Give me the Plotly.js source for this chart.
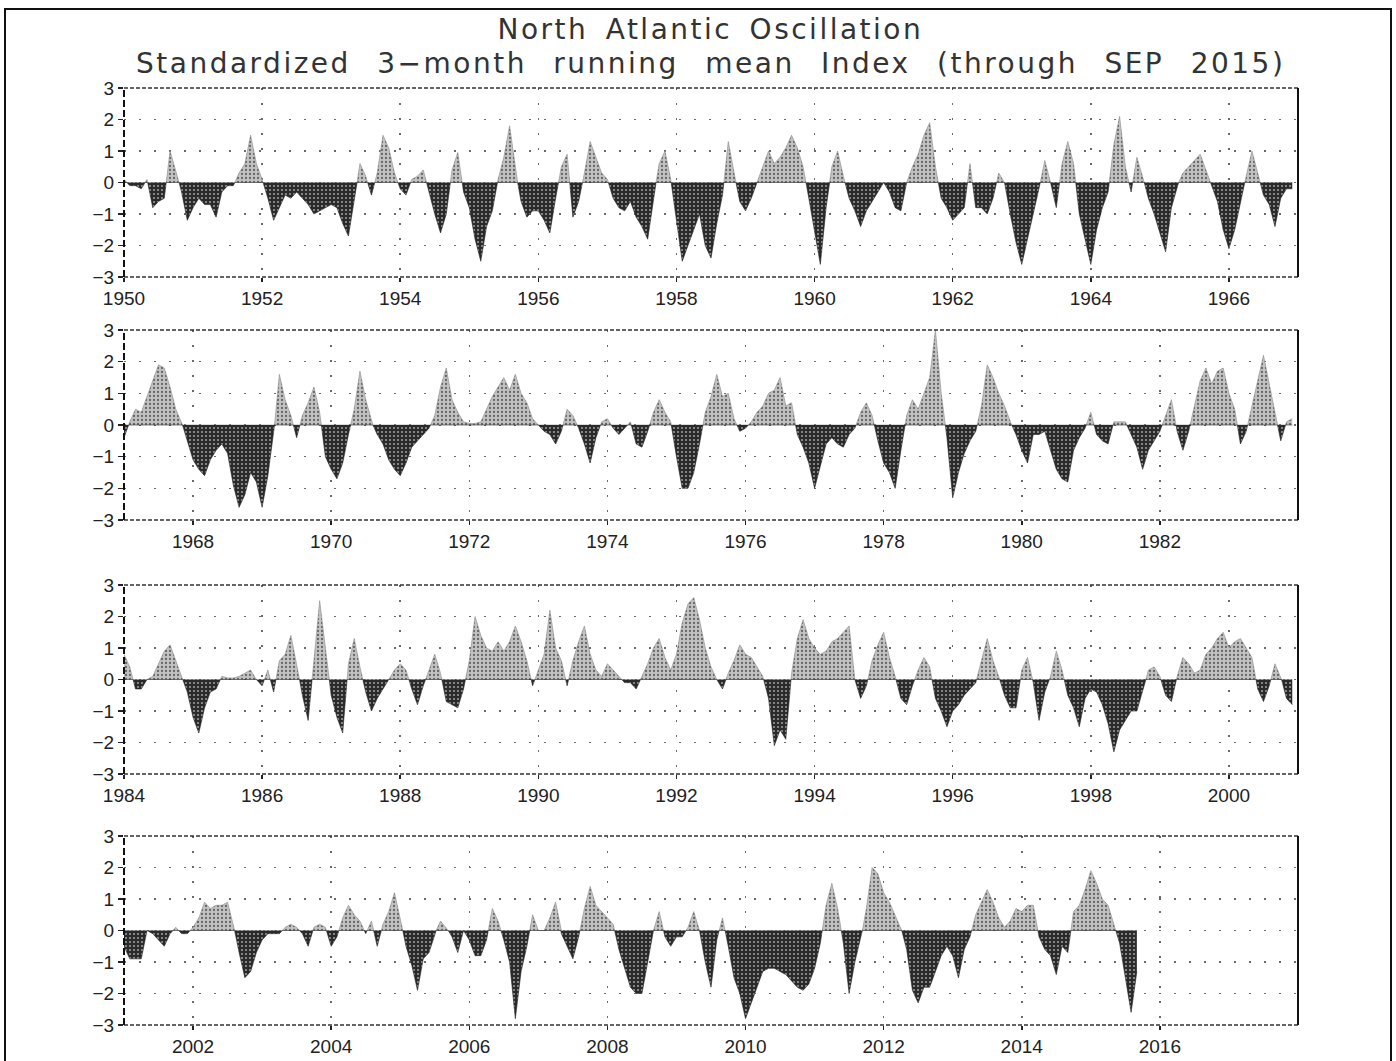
<!DOCTYPE html>
<html>
<head>
<meta charset="utf-8">
<script src="https://cdn.plot.ly/plotly-3.0.1.min.js"></script>
<style>
html,body{margin:0;padding:0;background:#fff;}
#chart{width:1396px;height:1061px;}
</style>
</head>
<body>
<div id="chart"></div>
<script>
// Panel start years (each panel spans 17 years of monthly values)
const panelStartYears = [1950, 1967, 1984, 2001];

// Standardized 3-month running mean NAO index, monthly
const nao1950to1966 = [
 0.1,-0.1,-0.1,-0.2, 0.1,-0.8,-0.6,-0.5, 1.0, 0.4,-0.3,-1.2,
-0.8,-0.5,-0.7,-0.7,-1.1,-0.3,-0.1,-0.1, 0.3, 0.6, 1.5, 0.6,
 0.1,-0.5,-1.2,-0.8,-0.4,-0.5,-0.3,-0.5,-0.7,-1.0,-0.9,-0.8,
-0.7,-0.8,-1.3,-1.7,-0.6, 0.6, 0.2,-0.4, 0.3, 1.5, 1.1, 0.3,
-0.2,-0.4, 0.1, 0.2, 0.4,-0.3,-1.0,-1.6,-1.0, 0.4, 0.95,-0.3,
-0.8,-1.8,-2.5,-1.4,-0.9, 0.1, 0.8, 1.8, 0.4,-0.6,-1.1,-0.9,
-0.9,-1.2,-1.6,-0.5, 0.5, 0.9,-1.1,-0.6, 0.3, 1.3, 0.8, 0.3,
 0.1,-0.5,-0.8,-0.9,-0.6,-1.1,-1.4,-1.8,-0.5, 0.6, 1.0, 0.1,
-1.2,-2.5,-2.0,-1.5,-1.0,-2.0,-2.4,-1.3,-0.4, 1.3, 0.3,-0.6,
-0.9,-0.5, 0.0, 0.5, 1.0, 0.6, 0.8, 1.1, 1.5, 1.1, 0.5,-0.5,
-1.5,-2.6,-0.8, 0.5, 1.0, 0.2,-0.5,-0.9,-1.4,-0.9,-0.6,-0.3,
 0.0,-0.3,-0.8,-0.9, 0.0, 0.5, 0.9, 1.5, 1.9, 0.5,-0.5,-0.8,
-1.2,-1.0,-0.8, 0.6,-0.8,-0.8,-1.0,-0.5, 0.3, 0.0,-1.0,-1.9,
-2.6,-1.8,-0.9,-0.2, 0.7, 0.0,-0.8, 0.6, 1.3, 0.6,-1.0,-1.8,
-2.6,-1.5,-0.8,-0.3, 1.2, 2.1, 0.5,-0.3, 0.8, 0.2,-0.5,-1.0,
-1.6,-2.2,-0.8,-0.1, 0.3, 0.5, 0.7, 0.9, 0.4,-0.1,-0.6,-1.5,
-2.1,-1.5,-0.6, 0.2, 1.0, 0.3,-0.4,-0.7,-1.4,-0.5,-0.2,-0.2
];
const nao1967to1983 = [
-0.4, 0.1, 0.5, 0.4, 0.9, 1.4, 1.9, 1.8, 1.2, 0.5, 0.1,-0.5,
-1.1,-1.4,-1.6,-1.1,-0.8,-0.6,-0.9,-1.9,-2.6,-2.2,-1.5,-1.8,
-2.6,-1.6,-0.3, 1.6, 0.8, 0.3,-0.4, 0.3, 0.7, 1.2, 0.4,-1.0,
-1.4,-1.7,-1.2,-0.3, 0.5, 1.7, 0.8, 0.1,-0.3,-0.6,-1.1,-1.4,
-1.6,-1.2,-0.7,-0.5,-0.3,-0.1, 0.3, 1.2, 1.8, 0.8, 0.4, 0.1,
 0.05,0.05,0.1, 0.5, 0.9, 1.2, 1.5, 1.1, 1.6, 1.0, 0.7, 0.2,
 0.0,-0.2,-0.3,-0.6,-0.2, 0.5, 0.3,-0.1,-0.6,-1.2,-0.4, 0.1,
 0.2,-0.1,-0.3,-0.1, 0.1,-0.6,-0.7,-0.2, 0.4, 0.8, 0.4, 0.1,
-1.0,-2.0,-2.0,-1.5,-0.6, 0.4, 0.9, 1.6, 0.9, 1.0, 0.2,-0.2,
-0.1, 0.1, 0.4, 0.6, 1.0, 1.1, 1.5, 0.6, 0.7,-0.3,-0.7,-1.2,
-2.0,-1.3,-0.6,-0.4,-0.6,-0.7,-0.3,-0.1, 0.4, 0.7, 0.3,-0.5,
-1.2,-1.5,-2.0,-0.8, 0.3, 0.8, 0.5, 1.0, 1.5, 3.0, 1.0,-0.4,
-2.3,-1.5,-0.9,-0.5,-0.2, 0.6, 1.9, 1.5, 1.0, 0.6, 0.1,-0.3,
-0.8,-1.2,-0.3,-0.3,-0.2,-0.8,-1.4,-1.7,-1.8,-0.8,-0.4,-0.1,
 0.4,-0.3,-0.5,-0.6, 0.1, 0.1, 0.1,-0.3,-0.7,-1.4,-0.8,-0.5,
-0.2, 0.3, 0.8,-0.2,-0.8,-0.2, 0.6, 1.4, 1.8, 1.3, 1.7, 1.8,
 1.0, 0.5,-0.6,-0.2, 0.6, 1.4, 2.2, 1.3, 0.4,-0.5, 0.1, 0.2
];
const nao1984to2000 = [
 0.8, 0.4,-0.3,-0.3, 0.0, 0.1, 0.5, 0.9, 1.1, 0.6, 0.1,-0.4,
-1.2,-1.7,-0.9,-0.4,-0.3, 0.1, 0.05,0.05,0.1, 0.2, 0.3, 0.0,
-0.2, 0.3,-0.4, 0.6, 0.8, 1.4, 0.5,-0.5,-1.3, 0.6, 2.5, 1.0,
-0.5,-1.2,-1.7, 0.5, 1.3, 0.4,-0.4,-1.0,-0.6,-0.3, 0.0, 0.3,
 0.5, 0.3,-0.3,-0.8,-0.2, 0.3, 0.8, 0.2,-0.7,-0.8,-0.9,-0.3,
 0.6, 2.0, 1.4, 1.0, 0.9, 1.2, 0.9, 1.2, 1.7, 1.2, 0.6,-0.2,
 0.3, 0.8, 2.2, 1.0, 0.6,-0.2, 0.6, 1.2, 1.7, 0.8, 0.3, 0.1,
 0.5, 0.3, 0.1,-0.1,-0.1,-0.3, 0.1, 0.5, 1.0, 1.3, 0.7, 0.3,
 0.8, 1.8, 2.4, 2.6, 1.9, 1.0, 0.4, 0.0,-0.3, 0.2, 0.6, 1.1,
 0.8, 0.7, 0.4, 0.1,-0.6,-2.1,-1.6,-1.9, 0.2, 1.3, 1.9, 1.3,
 1.0, 0.8, 0.9, 1.2, 1.3, 1.5, 1.7, 0.0,-0.6,-0.2, 0.6, 1.1,
 1.5, 0.7, 0.1,-0.6,-0.8,-0.2, 0.3, 0.7, 0.4,-0.6,-1.0,-1.5,
-1.0,-0.8,-0.5,-0.3,-0.1, 0.6, 1.3, 0.6, 0.1,-0.5,-0.9,-0.9,
 0.3, 0.7,-0.1,-1.3,-0.4, 0.1, 0.9, 0.3,-0.5,-0.9,-1.5,-0.6,
-0.3,-0.4,-0.8,-1.4,-2.3,-1.6,-1.3,-1.0,-1.0,-0.4, 0.3, 0.4,
 0.1,-0.5,-0.7, 0.1, 0.7, 0.5, 0.2, 0.3, 0.8, 1.0, 1.3, 1.5,
 1.0, 1.2, 1.3, 1.0, 0.7,-0.3,-0.7,-0.2, 0.5, 0.1,-0.6,-0.8
];
const nao2001to2017 = [
-0.5,-0.9,-0.9,-0.9, 0.0,-0.1,-0.3,-0.5,-0.1, 0.1,-0.1,-0.1,
 0.1, 0.4, 0.9, 0.7, 0.8, 0.8, 0.9, 0.2,-0.7,-1.5,-1.3,-0.7,
-0.3,-0.1,-0.1,-0.1, 0.1, 0.2, 0.1,-0.1,-0.5, 0.1, 0.2, 0.1,
-0.5,-0.2, 0.4, 0.8, 0.5, 0.3,-0.1, 0.3,-0.5, 0.2, 0.6, 1.2,
 0.4,-0.5,-1.1,-1.9,-0.9,-0.7,-0.1, 0.3, 0.1,-0.2,-0.7, 0.0,
-0.3,-0.8,-0.8,-0.3, 0.7, 0.3,-0.3,-1.0,-2.8,-1.3,-0.5, 0.5,
 0.0, 0.0, 0.4, 0.9,-0.1,-0.5,-0.9,-0.2, 0.7, 1.4, 0.8, 0.6,
 0.4, 0.2,-0.6,-1.2,-1.8,-2.0,-2.0,-1.0, 0.0, 0.6,-0.2,-0.5,
-0.2,-0.2, 0.1, 0.6, 0.0,-1.0,-1.8,-0.3, 0.4,-0.5,-1.5,-2.0,
-2.8,-2.3,-1.8,-1.3,-1.2,-1.2,-1.3,-1.4,-1.6,-1.8,-1.9,-1.7,
-1.2,-0.4, 0.8, 1.5, 0.7,-0.4,-2.0,-1.0,-0.3, 0.7, 2.0, 1.8,
 1.2, 0.9, 0.5, 0.1,-0.6,-1.9,-2.3,-1.8,-1.8,-1.3,-0.8,-0.5,
-0.8,-1.5,-0.6,-0.2, 0.5, 0.9, 1.3, 0.9, 0.4, 0.1, 0.3, 0.7,
 0.6, 0.8, 0.8,-0.2,-0.6,-0.8,-1.4,-0.5,-0.7, 0.6, 0.8, 1.3,
 1.9, 1.5, 1.0, 0.8, 0.2,-0.4,-1.5,-2.6,-1.3, null,null,null,
 null,null,null,null,null,null,null,null,null,null,null,null,
 null,null,null,null,null,null,null,null,null,null,null,null
];

const tickLabels1 = ['1950','1952','1954','1956','1958','1960','1962','1964','1966'];
const tickLabels2 = ['1968','1970','1972','1974','1976','1978','1980','1982'];
const tickLabels3 = ['1984','1986','1988','1990','1992','1994','1996','1998','2000'];
const tickLabels4 = ['2002','2004','2006','2008','2010','2012','2014','2016'];
const yTickValues = [-3,-2,-1,0,1,2,3];
const yTickLabels = ['\u22123','\u22122','\u22121','0','1','2','3'];

const titleLine1 = 'North Atlantic Oscillation';
const titleLine2 = 'Standardized 3\u2212month running mean Index (through SEP 2015)';

const panelSeries = [nao1950to1966, nao1967to1983, nao1984to2000, nao2001to2017];
const panelTicks = [tickLabels1, tickLabels2, tickLabels3, tickLabels4];

const H = 1061, W = 1396;
const panelPix = [[88,277],[330,520],[585,774],[836,1025]];
const xLeft = 124, xRight = 1298;

function splitSeries(vals, start){
  const xs=[], pos=[], neg=[];
  for(let i=0;i<vals.length;i++){
    const v = vals[i];
    if(v===null) break;
    const x = start + i/12;
    if(i>0){
      const u = vals[i-1];
      if(u!==null && u*v<0){
        const xc = start + (i-1)/12 + (u/(u-v))/12;
        xs.push(xc); pos.push(0); neg.push(0);
      }
    }
    xs.push(x); pos.push(Math.max(v,0)); neg.push(Math.min(v,0));
  }
  return {xs,pos,neg};
}

const FONT = 'DejaVu Sans';
const TICKFONT = 'Liberation Sans Narrow, Liberation Sans, Arial, sans-serif';
const traces = [];
const layout = {
  width: W, height: H, autosize:false,
  margin:{l:0,r:0,t:0,b:0},
  paper_bgcolor:'#ffffff', plot_bgcolor:'#ffffff',
  showlegend:false,
  font:{family:FONT, size:17, color:'#222'},
  annotations:[],
  shapes:[]
};

panelSeries.forEach((vals,k)=>{
  const start = panelStartYears[k];
  const s = splitSeries(vals, start);
  const ax = k===0 ? '' : String(k+1);
  const xa = 'x'+ax, ya = 'y'+ax;
  traces.push({
    type:'scatter', mode:'lines', x:s.xs, y:s.pos, xaxis:xa, yaxis:ya,
    line:{color:'#8a8a8a', width:0.6}, fill:'tozeroy',
    fillcolor:'#b4b4b4',
    fillpattern:{shape:'.', bgcolor:'#c2c2c2', fgcolor:'#666666', size:4, solidity:0.25},
    hoverinfo:'skip'
  });
  traces.push({
    type:'scatter', mode:'lines', x:s.xs, y:s.neg, xaxis:xa, yaxis:ya,
    line:{color:'#222222', width:0.6}, fill:'tozeroy',
    fillcolor:'#3c3c3c',
    fillpattern:{shape:'.', bgcolor:'#2a2a2a', fgcolor:'#9a9a9a', size:4, solidity:0.22},
    hoverinfo:'skip'
  });
  const tickVals = panelTicks[k].map(t=>Number(t));
  const [top,bot] = panelPix[k];
  layout['xaxis'+ax] = {
    domain:[xLeft/W, xRight/W], anchor:ya,
    range:[start, start+17],
    tickmode:'array', tickvals:tickVals, ticktext:panelTicks[k],
    ticks:'outside', ticklen:4, tickwidth:1.5, tickcolor:'#222',
    showgrid:true, gridcolor:'#6a6a6a', gridwidth:1.5, griddash:'2px,13px',
    zeroline:false, showline:false,
    tickfont:{family:TICKFONT, size:19, color:'#222'}
  };
  layout['yaxis'+ax] = {
    domain:[1-bot/H, 1-top/H], anchor:xa,
    range:[-3,3],
    tickmode:'array', tickvals:yTickValues, ticktext:yTickLabels,
    ticks:'outside', ticklen:5, tickwidth:1.5, tickcolor:'#222',
    showgrid:true, gridcolor:'#6a6a6a', gridwidth:1.5, griddash:'2px,13px',
    zeroline:false, showline:false,
    tickfont:{family:TICKFONT, size:19, color:'#222'}
  };
  const xd = xa+' domain', yd = ya+' domain';
  layout.shapes.push({type:'line', xref:xd, yref:yd, x0:0, x1:1, y0:1, y1:1, line:{color:'#333', width:1.6, dash:'4px,2px'}});
  layout.shapes.push({type:'line', xref:xd, yref:yd, x0:0, x1:1, y0:0, y1:0, line:{color:'#333', width:1.6, dash:'4px,2px'}});
  layout.shapes.push({type:'line', xref:xd, yref:yd, x0:0, x1:0, y0:0, y1:1, line:{color:'#111', width:2, dash:'7px,3px'}});
  layout.shapes.push({type:'line', xref:xd, yref:yd, x0:1, x1:1, y0:0, y1:1, line:{color:'#111', width:2}});
});

// outer border
layout.shapes.push({type:'rect', xref:'paper', yref:'paper', x0:5/W, x1:1391/W, y0:-0.05, y1:1-9/H, line:{color:'#111', width:2}, fillcolor:'rgba(0,0,0,0)'});

layout.annotations.push({xref:'paper', yref:'paper', x:710/W, y:1-30/H, text:titleLine1, showarrow:false, xanchor:'center', yanchor:'middle', borderpad:0, font:{family:FONT, size:28, color:'#333'}});
layout.annotations.push({xref:'paper', yref:'paper', x:710/W, y:1-63.5/H, text:titleLine2, showarrow:false, xanchor:'center', yanchor:'middle', borderpad:0, font:{family:FONT, size:28, color:'#333'}});

Plotly.newPlot('chart', traces, layout, {staticPlot:true, displayModeBar:false}).then(()=>{
  const texts = document.querySelectorAll('.annotation-text');
  const spacing = [[2.5,6],[2.5,15]];
  texts.forEach((t,i)=>{
    const sp = spacing[i] || [2.5,10];
    t.style.letterSpacing = sp[0]+'px';
    t.style.wordSpacing = sp[1]+'px';
  });
});
</script>
</body>
</html>
